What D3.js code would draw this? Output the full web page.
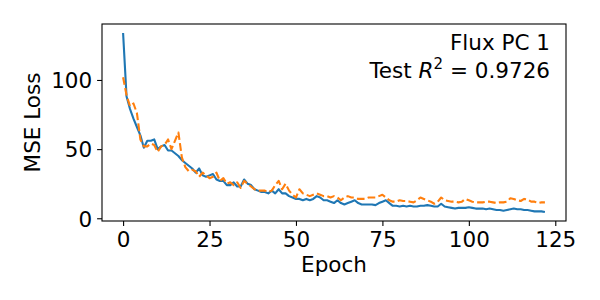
<!DOCTYPE html>
<html>
<head>
<meta charset="utf-8">
<script src="https://cdn.jsdelivr.net/npm/d3@7"></script>
<style>
  body { margin: 0; background: #fff; }
  text { font-family: "DejaVu Sans", sans-serif; }
</style>
</head>
<body>
<div id="chart"></div>
<script>
// Loss per epoch (solid blue / dashed orange)
const trainLoss = [
  134, 88, 79, 72, 66, 60, 51, 56, 56, 57,
  50, 52, 53, 49, 49, 47, 45, 42, 40, 38,
  36, 33, 36, 31, 30, 31, 32, 28, 27, 27,
  24, 24, 26, 23, 23, 28, 25, 24, 21, 20,
  19, 19, 18, 20, 18, 21, 18, 18, 16, 15,
  14, 14, 13, 14, 13, 14, 16, 15, 13, 13,
  12, 11, 13, 11, 10, 11, 12, 13, 11, 10,
  10, 10, 10, 9.5, 11, 12, 13, 11, 9, 9,
  8.5, 9, 8.5, 9, 8.5, 8.5, 9, 9, 9.5, 9,
  8.5, 8.5, 10.5, 8.5, 8, 7.5, 7, 7.5, 7.5, 7.5,
  8, 7.5, 7, 7, 7, 6.5, 7, 6.5, 6, 6,
  5.5, 6, 6.5, 7, 6.5, 6.5, 6, 6, 5.5, 5,
  5, 5, 4.5
];
const testLoss = [
  102, 89, 81, 83, 76, 57, 52, 52, 54, 53,
  48, 52, 53, 57, 50, 56, 62, 44, 37, 34,
  35, 34, 30, 33, 31, 29, 30, 33, 27, 29,
  25, 26, 24, 26, 22, 27, 25, 23, 21, 20,
  20, 20, 19, 20, 24, 27, 21, 25, 20, 17,
  15, 21, 18, 17, 16, 17, 18, 17, 16, 16,
  15, 16, 15, 13, 15, 16, 15, 15, 14, 14,
  14, 15, 15, 15, 16, 17, 15, 13, 12, 12,
  13, 12.5, 12.5, 12, 11.5, 13, 15, 14, 13, 12,
  10.5, 12, 15, 13, 12.5, 12, 12, 11.5, 12, 14,
  13, 12, 11.5, 11.5, 11.5, 12, 12, 11.5, 11, 11.5,
  11.5, 12, 14.5, 14, 13, 12.5, 14, 13.5, 12, 12,
  11, 11.5, 11.5
];
const epochs = d3.range(trainLoss.length);
const xTicks = [0, 25, 50, 75, 100, 125];
const yTicks = [0, 50, 100];

const width = 600, height = 300;
const plot = { left: 102, right: 566, top: 24, bottom: 221 };
const fontSize = 21.5;

const svg = d3.select('#chart').append('svg')
  .attr('width', width)
  .attr('height', height);

// matplotlib style 5% margins
const xMin = 0, xMax = epochs.length - 1;
const xPad = (xMax - xMin) * 0.05;
const allVals = trainLoss.concat(testLoss);
const yMin = d3.min(allVals), yMax = d3.max(allVals);
const yPad = (yMax - yMin) * 0.05;

const x = d3.scaleLinear()
  .domain([xMin - xPad, xMax + xPad])
  .range([plot.left, plot.right]);
const y = d3.scaleLinear()
  .domain([yMin - yPad, yMax + yPad])
  .range([plot.bottom, plot.top]);

const tickLen = 4.9;

const xAxis = svg.append('g')
  .attr('transform', `translate(0,${plot.bottom})`)
  .call(d3.axisBottom(x).tickValues(xTicks).tickSize(tickLen).tickPadding(4.9).tickSizeOuter(0));
const yAxis = svg.append('g')
  .attr('transform', `translate(${plot.left},0)`)
  .call(d3.axisLeft(y).tickValues(yTicks).tickSize(tickLen).tickPadding(4.9).tickSizeOuter(0));

[xAxis, yAxis].forEach(ax => {
  ax.select('.domain').remove();
  ax.selectAll('.tick line').attr('stroke', '#000').attr('stroke-width', 1.1);
  ax.selectAll('.tick text')
    .attr('fill', '#000')
    .style('font-size', fontSize + 'px');
});
xAxis.selectAll('.tick text').attr('dy', '0.76em');
yAxis.selectAll('.tick text').attr('dy', '0.36em');

const line = vals => d3.line()
  .x((d, i) => x(epochs[i]))
  .y(d => y(d))(vals);

svg.append('path')
  .attr('d', line(trainLoss))
  .attr('fill', 'none')
  .attr('stroke', '#1f77b4')
  .attr('stroke-width', 2.1)
  .attr('stroke-linejoin', 'round');

svg.append('path')
  .attr('d', line(testLoss))
  .attr('fill', 'none')
  .attr('stroke', '#ff7f0e')
  .attr('stroke-width', 2.1)
  .attr('stroke-dasharray', '7.7,3.3')
  .attr('stroke-linejoin', 'round');

// frame
svg.append('rect')
  .attr('x', plot.left)
  .attr('y', plot.top)
  .attr('width', plot.right - plot.left)
  .attr('height', plot.bottom - plot.top)
  .attr('fill', 'none')
  .attr('stroke', '#000')
  .attr('stroke-width', 1.1);

// labels
svg.append('text')
  .attr('x', (plot.left + plot.right) / 2)
  .attr('y', 272)
  .attr('text-anchor', 'middle')
  .style('font-size', fontSize + 'px')
  .text('Epoch');

svg.append('text')
  .attr('transform', `translate(40,${(plot.top + plot.bottom) / 2}) rotate(-90)`)
  .attr('text-anchor', 'middle')
  .style('font-size', fontSize + 'px')
  .text('MSE Loss');

// annotation
svg.append('text')
  .attr('x', 550)
  .attr('y', 50)
  .attr('text-anchor', 'end')
  .style('font-size', fontSize + 'px')
  .text('Flux PC 1');

const r2 = svg.append('text')
  .attr('x', 550)
  .attr('y', 78)
  .attr('text-anchor', 'end')
  .style('font-size', fontSize + 'px');
r2.append('tspan').text('Test ');
r2.append('tspan').style('font-style', 'italic').text('R');
r2.append('tspan').attr('dy', -9).style('font-size', '15px').text('2');
r2.append('tspan').attr('dy', 9).text(' = 0.9726');
</script>
</body>
</html>
